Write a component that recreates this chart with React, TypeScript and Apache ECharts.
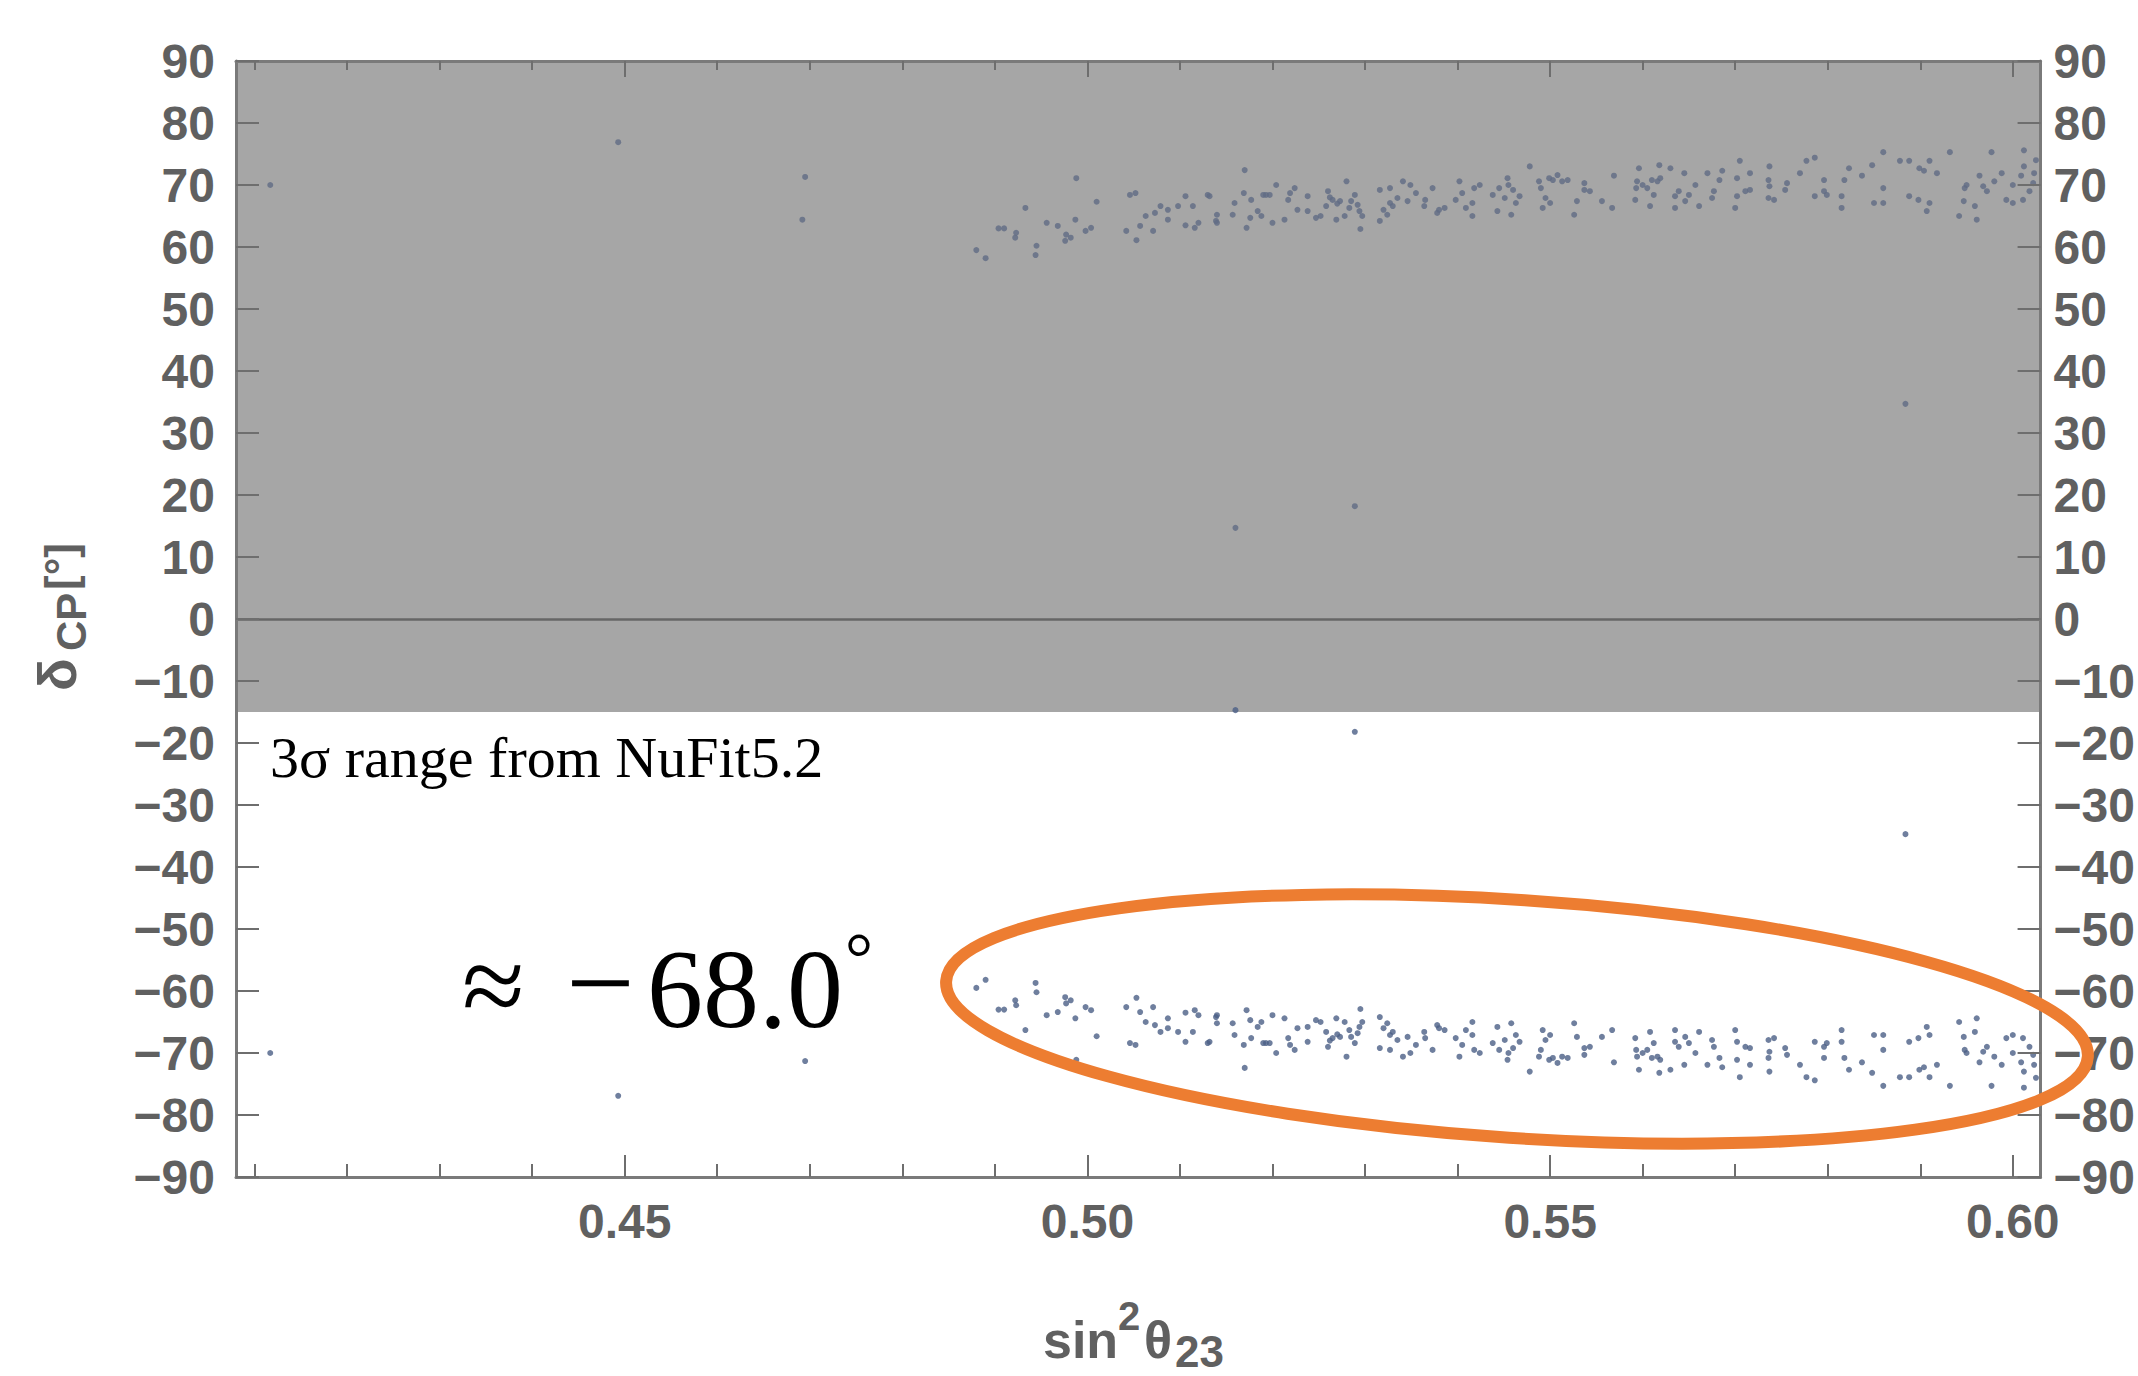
import React, { useEffect, useRef } from "react";
import * as echarts from "echarts";

// ---- data ----
const xMin = 0.408;
const xMax = 0.603;
const yMin = -90;
const yMax = 90;
const xMajorTicks = [0.45, 0.5, 0.55, 0.6];
const xMinorTicks = [0.41, 0.42, 0.43, 0.44, 0.46, 0.47, 0.48, 0.49, 0.51, 0.52, 0.53, 0.54, 0.56, 0.57, 0.58, 0.59];
const nufitLowerEdge = -15; // 3σ range: -15 .. 90 shaded
const nufitUpperEdge = 90;

// points with negative δCP (white region); the upper band is their mirror image δ -> -δ
const lowerBand: [number, number][] = [
  [0.4117, -70.0], [0.4493, -76.9], [0.4695, -71.3], [0.4692, -64.4], [0.516, -14.7], [0.5289, -18.2], [0.5884, -34.7],
  [0.488, -59.5], [0.489, -58.2], [0.4904, -63.0], [0.491, -63.0], [0.4922, -61.5], [0.4923, -62.3], [0.4933, -66.3],
  [0.4944, -58.7], [0.4945, -60.2], [0.4956, -63.9], [0.4968, -63.4], [0.4976, -61.0], [0.4982, -61.5], [0.4977, -62.0],
  [0.4987, -64.4], [0.4988, -71.1], [0.4998, -62.6], [0.5004, -63.1], [0.501, -67.3], [0.5042, -62.6], [0.5046, -68.4],
  [0.5052, -68.7], [0.5053, -61.1], [0.5057, -63.4], [0.5063, -65.0], [0.5071, -62.6], [0.5073, -65.5], [0.5079, -66.6],
  [0.5087, -64.4], [0.5087, -66.0], [0.5098, -66.6], [0.5106, -63.5], [0.5106, -68.2], [0.5116, -63.1], [0.512, -63.9],
  [0.5114, -66.6], [0.513, -68.4], [0.5139, -64.2],
  [0.514, -63.9], [0.514, -65.2], [0.5132, -68.2], [0.5157, -65.2], [0.5159, -67.1], [0.5169, -68.7], [0.517, -72.4],
  [0.5172, -63.1], [0.5176, -64.7], [0.5177, -67.6], [0.5184, -65.8], [0.5188, -65.0], [0.519, -68.4], [0.5193, -68.4],
  [0.5197, -68.4], [0.52, -63.9], [0.5204, -70.0], [0.5213, -64.4], [0.5217, -67.6], [0.5219, -68.7], [0.5224, -69.5],
  [0.5227, -66.0], [0.5238, -65.8], [0.5238, -68.2], [0.5247, -64.7], [0.5252, -65.0], [0.5258, -66.6], [0.526, -69.0],
  [0.5262, -68.0], [0.5265, -67.6], [0.5269, -64.4], [0.527, -67.0], [0.5273, -67.4], [0.5278, -65.0], [0.528, -70.6],
  [0.5283, -66.3], [0.5285, -67.4], [0.5289, -68.4], [0.5292, -66.8], [0.5294, -65.8], [0.5295, -62.9], [0.5297, -65.0],
  [0.5316, -64.2], [0.5316, -69.2], [0.532, -66.0], [0.5324, -65.2], [0.5327, -67.1], [0.5327, -69.5], [0.533, -66.6],
  [0.5335, -67.9], [0.5341, -70.6], [0.5346, -67.4], [0.5349, -70.0], [0.5355, -68.7], [0.5365, -67.6], [0.5364, -66.6],
  [0.5373, -69.5], [0.5378, -65.5], [0.538, -66.0], [0.5386, -66.3], [0.5398, -67.6], [0.5402, -70.6], [0.5405, -68.7],
  [0.5409, -66.3], [0.5416, -65.0], [0.5416, -67.1], [0.5418, -69.5], [0.5424, -70.0],
  [0.5438, -68.4], [0.5443, -65.8], [0.5445, -69.5], [0.5451, -67.9], [0.5454, -71.1], [0.5455, -70.0], [0.5458, -65.2],
  [0.546, -69.2], [0.5463, -67.1], [0.5467, -68.2], [0.5478, -73.0], [0.5488, -70.6], [0.549, -69.5], [0.5492, -66.3],
  [0.5495, -67.9], [0.5499, -71.1], [0.55, -67.1], [0.5503, -70.8], [0.5508, -71.6], [0.5513, -70.6], [0.5519, -70.8],
  [0.5526, -65.2], [0.5529, -67.4], [0.5537, -69.2], [0.5537, -70.3], [0.5543, -69.0], [0.5556, -67.4], [0.5567, -66.3],
  [0.5569, -71.5], [0.5592, -67.6], [0.5593, -69.5], [0.5594, -70.6], [0.5596, -72.7], [0.56, -70.0], [0.5605, -69.5],
  [0.5608, -66.6], [0.561, -70.8], [0.5612, -68.4], [0.5616, -70.6], [0.5618, -73.2], [0.5619, -71.1], [0.563, -72.7],
  [0.5635, -66.3], [0.5635, -68.2], [0.5639, -69.0], [0.5645, -71.9], [0.5646, -67.4], [0.565, -68.4], [0.5657, -70.0],
  [0.5661, -66.6], [0.567, -71.9], [0.5675, -67.9], [0.5677, -69.0], [0.5683, -70.8], [0.5686, -72.3], [0.57, -66.3],
  [0.5702, -68.2], [0.5702, -71.1], [0.5705, -73.9], [0.5711, -69.0],
  [0.5716, -69.2], [0.5716, -71.9], [0.5736, -67.9], [0.5742, -67.6], [0.5737, -69.8], [0.5736, -70.8], [0.5737, -73.0],
  [0.5754, -69.2], [0.5756, -70.3], [0.577, -71.9], [0.5777, -73.9], [0.5786, -68.2], [0.5786, -74.4], [0.5796, -69.0],
  [0.5796, -70.8], [0.5799, -68.4], [0.5815, -66.3], [0.5815, -68.2], [0.5818, -70.8], [0.5823, -72.7], [0.5837, -71.5],
  [0.5848, -73.2], [0.585, -67.1], [0.586, -67.1], [0.586, -69.5], [0.586, -75.3], [0.5878, -73.9], [0.5888, -73.9],
  [0.5888, -68.2], [0.5898, -67.6], [0.5899, -72.7], [0.5904, -72.3], [0.5907, -65.8], [0.591, -67.1], [0.591, -73.9],
  [0.5918, -71.9], [0.5932, -75.3], [0.5942, -65.0], [0.5947, -67.4], [0.5948, -69.5], [0.595, -70.0], [0.5959, -66.6],
  [0.5961, -64.4], [0.5964, -71.5], [0.5968, -69.8], [0.5972, -69.0], [0.5977, -75.3], [0.598, -70.6], [0.5988, -71.9],
  [0.5993, -67.6], [0.6, -67.1], [0.6, -70.0], [0.6011, -67.6], [0.6009, -71.5], [0.6012, -73.0], [0.6012, -75.6],
  [0.6018, -69.0], [0.6023, -71.9], [0.6025, -74.0], [0.6022, -70.3],
];
const upperBand: [number, number][] = lowerBand.map(([s, d]) => [s, -d]);

const fmtY = (v: number) => (v < 0 ? "\u2212" + Math.abs(v) : String(v));

export default function App() {
  const ref = useRef<HTMLDivElement>(null);

  useEffect(() => {
    if (!ref.current) return;
    const chart = echarts.init(ref.current, undefined, { renderer: "svg" });

    const labelFont = {
      fontFamily: "Liberation Sans",
      fontWeight: "bold" as const,
      fontSize: 48,
      color: "#606060",
    };
    const axisLineStyle = { color: "#7a7a7a", width: 3 };
    const tickLineStyle = { color: "#6e6e6e", width: 2 };

    const xBase = (position: string, ticks: number[], len: number, showLine: boolean, showLabel: boolean) => ({
      type: "value",
      min: xMin,
      max: xMax,
      position,
      z: 10,
      axisLine: { show: showLine, onZero: false, lineStyle: axisLineStyle },
      splitLine: { show: false },
      axisTick: { show: true, inside: true, length: len, customValues: ticks, lineStyle: tickLineStyle },
      axisLabel: showLabel
        ? { show: true, customValues: xMajorTicks, formatter: (v: number) => v.toFixed(2), margin: 20, ...labelFont }
        : { show: false },
    });

    const yBase = (position: string, margin: number) => ({
      type: "value",
      min: yMin,
      max: yMax,
      interval: 10,
      position,
      z: 10,
      axisLine: { show: true, onZero: false, lineStyle: axisLineStyle },
      splitLine: { show: false },
      axisTick: { show: true, inside: true, length: 23, lineStyle: tickLineStyle },
      axisLabel: { show: true, margin, formatter: fmtY, ...labelFont },
    });

    const titleFont = "Liberation Sans";
    const titleColor = "#606060";
    const serif = "Liberation Serif";

    chart.setOption({
      animation: false,
      backgroundColor: "#ffffff",
      grid: { left: 236, top: 61, width: 1807, height: 1116, containLabel: false },
      xAxis: [
        xBase("bottom", xMajorTicks, 22, true, true),
        xBase("bottom", xMinorTicks, 13, false, false),
        xBase("top", xMajorTicks, 16, true, false),
        xBase("top", xMinorTicks, 9, false, false),
      ],
      yAxis: [yBase("left", 21), yBase("right", 13)],
      series: [
        {
          type: "scatter",
          name: "upper",
          xAxisIndex: 0,
          yAxisIndex: 0,
          data: upperBand,
          symbol: "circle",
          symbolSize: 6,
          itemStyle: { color: "#606c84" },
          emphasis: { disabled: true },
          silent: true,
          z: 3,
          markArea: {
            silent: true,
            z: 1,
            itemStyle: { color: "#a6a6a6", borderWidth: 0 },
            label: { show: false },
            data: [[{ xAxis: xMin, yAxis: nufitLowerEdge }, { xAxis: xMax, yAxis: nufitUpperEdge }]],
          },
          markLine: {
            silent: true,
            symbol: ["none", "none"],
            label: { show: false },
            lineStyle: { color: "#666666", width: 2.5, type: "solid" },
            data: [{ yAxis: 0 }],
          },
        },
        {
          type: "scatter",
          name: "lower",
          xAxisIndex: 0,
          yAxisIndex: 0,
          data: lowerBand,
          symbol: "circle",
          symbolSize: 6,
          itemStyle: { color: "#4b5f86" },
          emphasis: { disabled: true },
          silent: true,
          z: 3,
        },
      ],
      graphic: [
        {
          type: "text",
          z: 100,
          x: 270,
          y: 757,
          silent: true,
          style: {
            text: "3σ range from NuFit5.2",
            fontFamily: serif,
            fontSize: 58,
            fill: "#000",
            align: "left",
            verticalAlign: "middle",
          },
        },
        {
          type: "text",
          z: 100,
          x: 462,
          y: 985,
          silent: true,
          style: { text: "≈", fontFamily: serif, fontSize: 114, fill: "#000", align: "left", verticalAlign: "middle" },
        },
        {
          type: "text",
          z: 100,
          x: 566,
          y: 982,
          silent: true,
          style: { text: "−", fontFamily: serif, fontSize: 122, fill: "#000", align: "left", verticalAlign: "middle" },
        },
        {
          type: "text",
          z: 100,
          x: 647,
          y: 989,
          silent: true,
          style: { text: "68.0", fontFamily: serif, fontSize: 112, fill: "#000", align: "left", verticalAlign: "middle" },
        },
        {
          type: "text",
          z: 100,
          x: 845,
          y: 957,
          silent: true,
          style: { text: "°", fontFamily: serif, fontSize: 70, fill: "#000", align: "left", verticalAlign: "middle" },
        },
        {
          type: "ellipse",
          z: 100,
          silent: true,
          x: 1517,
          y: 1019,
          rotation: -0.0656,
          shape: { cx: 0, cy: 0, rx: 572, ry: 119 },
          style: { fill: "none", stroke: "#ED7D31", lineWidth: 12 },
        },
        // x-axis title: sin^2 θ_23
        {
          type: "group",
          z: 100,
          silent: true,
          children: [
            { type: "text", x: 1043, y: 1340, style: { text: "sin", fontFamily: titleFont, fontWeight: "bold", fontSize: 52, fill: titleColor, align: "left", verticalAlign: "middle" } },
            { type: "text", x: 1118, y: 1316, style: { text: "2", fontFamily: titleFont, fontWeight: "bold", fontSize: 40, fill: titleColor, align: "left", verticalAlign: "middle" } },
            { type: "text", x: 1144, y: 1340, style: { text: "θ", fontFamily: titleFont, fontWeight: "bold", fontSize: 52, fill: titleColor, align: "left", verticalAlign: "middle" } },
            { type: "text", x: 1175, y: 1351, style: { text: "23", fontFamily: titleFont, fontWeight: "bold", fontSize: 44, fill: titleColor, align: "left", verticalAlign: "middle" } },
          ],
        },
        // y-axis title: δ_CP [°], rotated to read bottom-to-top
        {
          type: "group",
          z: 100,
          silent: true,
          x: 75,
          y: 691,
          rotation: Math.PI / 2,
          children: [
            { type: "text", x: 0, y: -18, style: { text: "δ", fontFamily: titleFont, fontWeight: "bold", fontSize: 54, fill: titleColor, align: "left", verticalAlign: "middle" } },
            { type: "text", x: 40, y: -4, style: { text: "CP", fontFamily: titleFont, fontWeight: "bold", fontSize: 42, fill: titleColor, align: "left", verticalAlign: "middle" } },
            { type: "text", x: 101, y: -15, style: { text: "[°]", fontFamily: titleFont, fontWeight: "bold", fontSize: 44, fill: titleColor, align: "left", verticalAlign: "middle" } },
          ],
        },
      ],
    });

    return () => {
      chart.dispose();
    };
  }, []);

  return (
    <div
      ref={ref}
      style={{ position: "absolute", left: 0, top: 0, width: 2138, height: 1376, background: "#fff" }}
    />
  );
}
